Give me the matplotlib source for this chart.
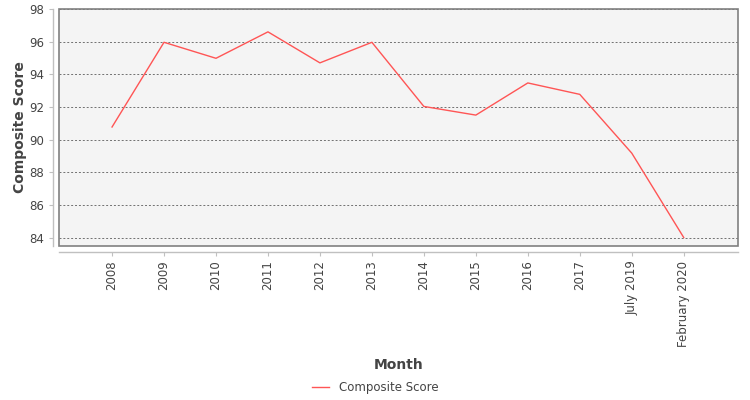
import matplotlib
matplotlib.use("Agg")
import matplotlib.pyplot as plt
from matplotlib.patches import Rectangle

# ------------------------
# Data
# ------------------------
months = ["2008", "2009", "2010", "2011", "2012", "2013", "2014",
          "2015", "2016", "2017", "July 2019", "February 2020"]
composite_score = [90.77, 95.96, 94.98, 96.6, 94.7, 95.96, 92.03,
                   91.5, 93.47, 92.77, 89.17, 84.0]
y_ticks = [84, 86, 88, 90, 92, 94, 96, 98]

plt.rcParams["font.family"] = ["DejaVu Sans"]

fig = plt.figure(figsize=(7.5, 4), dpi=100)
ax = fig.add_axes([0.0787, 0.385, 0.905, 0.5925])
ax.set_facecolor("#f4f4f4")

x = list(range(len(months)))
line, = ax.plot(x, composite_score, color="#ff5555", lw=1.0,
                label="Composite Score")

ax.set_xlim(-1.02, 12.04)
ax.set_ylim(83.48, 98.0)
ax.set_yticks(y_ticks)
ax.set_xticks(x)
ax.set_xticklabels(months)

ax.yaxis.grid(True, linestyle=(0, (2, 2)), color="#707070", lw=0.7)
ax.set_axisbelow(True)

# plot frame
for s in ["top", "right"]:
    ax.spines[s].set_visible(False)
ax.add_patch(Rectangle((0, 0), 1, 1, transform=ax.transAxes, fill=False,
                       edgecolor="#808080", lw=1.2, clip_on=False, zorder=5))

# offset axis lines
for s in ["left", "bottom"]:
    ax.spines[s].set_position(("outward", 4))
    ax.spines[s].set_color("#c0c0c0")
    ax.spines[s].set_linewidth(1.0)

ax.tick_params(axis="both", colors="#c0c0c0", length=3, width=0.8,
               labelcolor="#444444", labelsize=8.5)
ax.tick_params(axis="x", labelrotation=90)

ax.set_ylabel("Composite Score", fontsize=10, fontweight="bold",
              color="#444444", labelpad=2)
ax.set_xlabel("Month", fontsize=10, fontweight="bold", color="#444444",
              labelpad=8)

fig.legend(handles=[line], loc="center", bbox_to_anchor=(0.5, 0.032),
           frameon=False, fontsize=8.5, handlelength=1.5,
           labelcolor="#444444")

fig.savefig("out.png", dpi=100)
